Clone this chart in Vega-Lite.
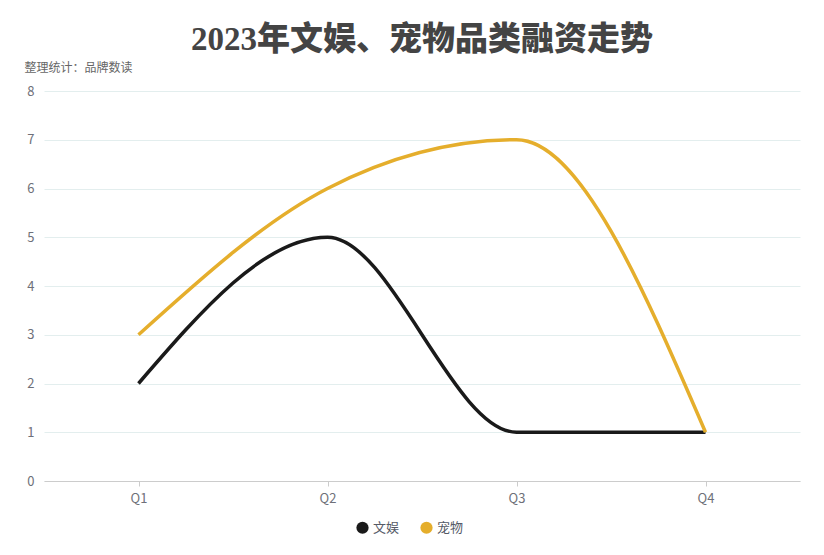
{
  "$schema": "https://vega.github.io/schema/vega-lite/v6.json",
  "width": 756,
  "height": 390,
  "autosize": "none",
  "padding": {"left": 44, "top": 91, "right": 24, "bottom": 74},
  "background": "white",
  "title": {
    "text": "2023年文娱、宠物品类融资走势",
    "anchor": "middle",
    "font": "Liberation Serif, Noto Sans CJK SC",
    "fontSize": 33,
    "fontWeight": 900,
    "color": "#444444",
    "offset": 4
  },
  "data": {
    "values": [
      {"q": "Q1", "cat": "文娱", "v": 2},
      {"q": "Q2", "cat": "文娱", "v": 5},
      {"q": "Q3", "cat": "文娱", "v": 1},
      {"q": "Q4", "cat": "文娱", "v": 1},
      {"q": "Q1", "cat": "宠物", "v": 3},
      {"q": "Q2", "cat": "宠物", "v": 6},
      {"q": "Q3", "cat": "宠物", "v": 7},
      {"q": "Q4", "cat": "宠物", "v": 1}
    ]
  },
  "mark": {"type": "line", "interpolate": "monotone", "strokeWidth": 3.5},
  "encoding": {
    "x": {
      "field": "q",
      "type": "nominal",
      "scale": {"type": "point", "padding": 0.5},
      "axis": {
        "title": null,
        "labelAngle": 0,
        "labelFont": "Noto Sans CJK SC",
        "labelFontSize": 13,
        "labelColor": "#6e7079",
        "labelPadding": 6,
        "domainColor": "#cccccc",
        "tickColor": "#cccccc",
        "tickSize": 5,
        "grid": false
      }
    },
    "y": {
      "field": "v",
      "type": "quantitative",
      "scale": {"domain": [0, 8], "nice": false},
      "axis": {
        "values": [0, 1, 2, 3, 4, 5, 6, 7, 8],
        "title": "整理统计：品牌数读",
        "titleAngle": 0,
        "titleAlign": "left",
        "titleBaseline": "middle",
        "titleX": -20,
        "titleY": -24,
        "titleFont": "Noto Sans CJK SC",
        "titleFontSize": 12,
        "titleFontWeight": "normal",
        "titleColor": "#666666",
        "labelFont": "Noto Sans CJK SC",
        "labelFontSize": 13,
        "labelColor": "#6e7079",
        "labelPadding": 10,
        "domain": false,
        "ticks": false,
        "gridColor": "#e3eeee"
      }
    },
    "color": {
      "field": "cat",
      "type": "nominal",
      "scale": {"domain": ["文娱", "宠物"], "range": ["#1a1a1a", "#e5ae2c"]},
      "legend": {
        "orient": "none",
        "legendX": 312,
        "legendY": 430,
        "direction": "horizontal",
        "title": null,
        "symbolType": "circle",
        "symbolStrokeWidth": 0,
        "symbolSize": 150,
        "labelFont": "Noto Sans CJK SC",
        "labelFontSize": 13,
        "labelColor": "#555a66",
        "columnPadding": 20,
        "encode": {
          "symbols": {
            "update": {
              "fill": {"scale": "color", "field": "value"},
              "opacity": {"value": 1}
            }
          }
        }
      }
    }
  },
  "config": {"view": {"stroke": null}}
}
